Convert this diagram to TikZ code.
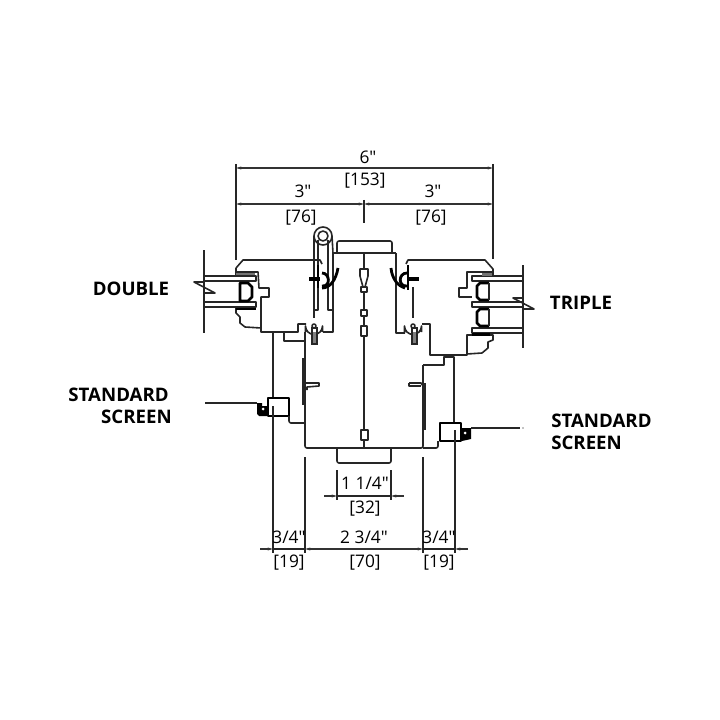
\documentclass[tikz,border=0pt]{standalone}
\usepackage{fontspec}
\newfontfamily\dimfont{Open Sans}
\usetikzlibrary{arrows.meta}
\begin{document}
\begin{tikzpicture}[%
x=0.75pt,y=-0.75pt,
profile/.style={color=black!85,line width=1.2pt,line join=round},
heavy/.style={color=black,line width=2.1pt,line join=round},
thickbar/.style={color=black!85,line width=1.7pt},
dimline/.style={color=black!80,line width=0.9pt,{Stealth[length=4pt,width=2.2pt]}-{Stealth[length=4pt,width=2.2pt]}},
tailline/.style={color=black!80,line width=0.9pt,-{Stealth[length=4pt,width=2.2pt]}},
witness/.style={color=black!85,line width=1.2pt},
dimtext/.style={inner sep=0pt,font=\dimfont\fontsize{13}{15}\selectfont},
calltext/.style={inner sep=0pt,font=\dimfont\bfseries\fontsize{14}{16}\selectfont},
]
\useasboundingbox (0,0) rectangle (720,720);
%% left frame;
\draw [profile] (236,268) -- (243,260) -- (320,260) -- (322,264);
\draw [profile] (236,272) -- (258,272) -- (259,288) -- (269,288) -- (269,297) -- (261,297) -- (261,332) -- (298,332) -- (298,324) -- (306,324);
\draw [profile] (236,268) -- (236,276);
\draw [profile] (236,307) -- (236,313) -- (240,317) -- (240,323) -- (245,327) -- (261,328);
\draw [profile] (322.5,332) -- (333,332) -- (333,253) -- (337,253);
%% left glass;
\draw [profile] (205,276) -- (256,276) -- (256,281) -- (205,281);
\draw [profile] (205,302) -- (256,302) -- (256,307) -- (205,307);
\draw [profile] (204,250) -- (204,333);
\draw [profile] (204,282) -- (194,282) -- (215,293) -- (204,293);
\draw [heavy] (240,283) -- (248,283) -- (252,287) -- (252,297) -- (248,301) -- (240,301) -- cycle;
\draw [line width=2pt,black!55] (236,274) -- (255,274);
\draw [heavy] (236,309) -- (256,309);
%% roller tube;
\draw [profile] (323,236) circle (9);
\draw [profile] (323,236) circle (5);
\draw [profile] (314,236) -- (314,318);
\draw [profile] (318,240) -- (318,310) -- (314,310);
\draw [profile] (328,240) -- (328,310) -- (333,310);
\draw [profile] (332,236) -- (333,253);
%% left fastener;
\draw [heavy] (318,265) -- (318,288);
\fill (309,277) rectangle (320,281);
\draw [heavy] (322,273) .. controls (330,273) and (331,287) .. (322,286);
\draw [heavy] (322,288) .. controls (330,288) and (336,280) .. (338,268);
\draw [profile] (305.5,332) -- (305.5,326) arc (180:0:8.5) -- (322.5,332);
\draw [profile,fill=white] (314,326) circle (2);
\draw [line width=1.4pt,color=black!85] (312,328) rectangle (317,344);
\fill [black!50] (313,332) rectangle (316,343);
%% centre;
\draw [profile,rounded corners=1.5pt] (337,253) -- (337,241) -- (392,241) -- (392,253);
\draw [profile] (333,253) -- (396,253);
\draw [profile] (364,253) -- (364,448);
\draw [profile,fill=white] (360,269) -- (368,269) -- (368,276) -- (365,287) -- (363,287) -- (360,276) -- cycle;
\draw [profile,fill=white] (361,287) rectangle (367,292);
\draw [profile,fill=white] (361,310) rectangle (367,316);
\draw [profile,fill=white] (361,326) rectangle (367,336);
\draw [profile,fill=white] (361,430) rectangle (368,440);
\draw [profile,rounded corners=1.5pt] (305,332) -- (305,448) -- (423,448) -- (423,365);
\draw [profile,rounded corners=1.5pt] (337,448) -- (337,463) -- (391,463) -- (391,448);
%% left jamb;
\draw [profile] (273,332) -- (273,398);
\draw [profile] (284,332) -- (284,341) -- (305,341);
\draw [heavy] (268,416) -- (268,398) -- (289,398) -- (289,416) -- cycle;
\draw [profile] (273,406) -- (273,553);
\draw [profile,rounded corners=1.5pt] (289,416) -- (289,423) -- (305,423);
\draw [thickbar] (303,358) -- (303,405);
\draw [profile] (307,390) -- (307,387) -- (319,386) -- (319,383) -- (305,383);
\fill (257,403) -- (262,403) -- (262,406) -- (268,406) -- (268,416) -- (259,416) -- (257,414) -- cycle;
\fill [white] (263,409) circle (1.5);
\draw [profile] (205,403) -- (257,403);
%% right frame;
\draw [profile] (406,264) -- (408,260) -- (485,260) -- (493,269) -- (493,276);
\draw [profile] (493,272) -- (467,272) -- (467,288) -- (459,288) -- (459,297) -- (472,297);
\draw [profile] (472,335) -- (467,335) -- (467,355) -- (430,355) -- (430,324) -- (422,324);
\draw [profile] (467,335) -- (493,335) -- (493,340) -- (488,342) -- (488,348) -- (482,353) -- (467,354);
\draw [profile] (405,333) -- (396,333) -- (396,253);
\draw [profile] (413,287) -- (413,318);
%% right glass;
\draw [profile] (523,276) -- (472,276) -- (472,281) -- (523,281);
\draw [profile] (523,302) -- (472,302) -- (472,307) -- (523,307);
\draw [profile] (523,328) -- (472,328) -- (472,333) -- (523,333);
\draw [profile] (523,265) -- (523,348);
\draw [profile] (523,298) -- (513,298) -- (534,309) -- (523,309);
\draw [heavy] (489,283) -- (480,283) -- (477,286) -- (477,297) -- (480,300) -- (489,300);
\draw [heavy] (489,309) -- (480,309) -- (477,312) -- (477,323) -- (480,326) -- (489,326);
\draw [profile] (489,283) -- (489,300);
\draw [profile] (489,309) -- (489,326);
\draw [heavy] (472,334.5) -- (490,334.5);
\fill [black!55] (482,273) rectangle (492,276);
%% right fastener;
\draw [heavy] (408,265) -- (408,290);
\fill (409,277) rectangle (419,281);
\draw [heavy] (407,273) .. controls (398,273) and (398,287) .. (407,286);
\draw [heavy] (405,288) .. controls (398,286) and (392,279) .. (391,268);
\draw [profile] (404.5,333) -- (404.5,326) arc (180:0:8.5) -- (421.5,332);
\draw [profile,fill=white] (413,326) circle (2);
\draw [line width=1.4pt,color=black!85] (412,328) rectangle (417,344);
\fill [black!50] (413,332) rectangle (416,343);
%% right jamb;
\draw [profile] (423,365) -- (444,365) -- (444,357) -- (454,357) -- (454,423);
\draw [heavy] (440,423) -- (461,423) -- (461,441) -- (440,441) -- cycle;
\draw [profile] (455,430) -- (455,553);
\draw [profile,rounded corners=1.5pt] (423,448) -- (438,448) -- (438,441);
\draw [thickbar] (424.5,383) -- (424.5,430);
\draw [profile] (409,383) -- (421,383) -- (423,386) -- (423,390);
\draw [profile] (409,383) -- (409,386) -- (421,386);
\fill (460,428) -- (471,428) -- (471,439) -- (462,441) -- (460,436) -- cycle;
\fill [white] (465,433) circle (1.5);
\draw [profile] (471,428) -- (520,428);
\fill (523,428) circle (0.7);
%% witness lines;
\draw [witness] (236,164) -- (236,260);
\draw [witness] (493,164) -- (493,259);
\draw [witness] (364,200) -- (364,223);
\draw [witness] (305,457) -- (305,553);
\draw [witness] (423,457) -- (423,553);
\draw [witness] (337,470) -- (337,500);
\draw [witness] (391,470) -- (391,500);
%% dimensions;
\draw [dimline] (236,168) -- (493,168);
\draw [dimline] (236,204) -- (364,204);
\draw [dimline] (364,204) -- (493,204);
\draw [tailline] (324,496) -- (337,496);
\draw [tailline] (404,496) -- (391,496);
\draw [witness] (337,496) -- (391,496);
\draw [tailline] (260,549) -- (273,549);
\draw [witness] (273,549) -- (305,549);
\draw [dimline] (305,549) -- (423,549);
\draw [witness] (423,549) -- (455,549);
\draw [tailline] (468,549) -- (455,549);
%% label;
\node [dimtext] (widthin) at (368,157) {6"};
\node [dimtext] (widthmm) at (365,181) {[153]};
\node [dimtext] (halflin) at (303,191) {3"};
\node [dimtext] (halflmm) at (301,218) {[76]};
\node [dimtext] (halfrin) at (433,191) {3"};
\node [dimtext] (halfrmm) at (431,218) {[76]};
\node [dimtext] (innerin) at (365,483) {1 1/4"};
\node [dimtext] (innermm) at (365,509) {[32]};
\node [dimtext] (bodyin) at (364,537) {2 3/4"};
\node [dimtext] (bodymm) at (365,563) {[70]};
\node [dimtext] (jamblin) at (289,537) {3/4"};
\node [dimtext] (jamblmm) at (289,563) {[19]};
\node [dimtext] (jambrin) at (439,537) {3/4"};
\node [dimtext] (jambrmm) at (439,563) {[19]};
\node [calltext] (double) at (131,289) {DOUBLE};
\node [calltext] (triple) at (581,303) {TRIPLE};
\node [calltext,anchor=east] (screenla) at (169,395) {STANDARD};
\node [calltext,anchor=east] (screenlb) at (172,417) {SCREEN};
\node [calltext,anchor=west] (screenra) at (551,421) {STANDARD};
\node [calltext,anchor=west] (screenrb) at (551,443) {SCREEN};
\end{tikzpicture}
\end{document}
